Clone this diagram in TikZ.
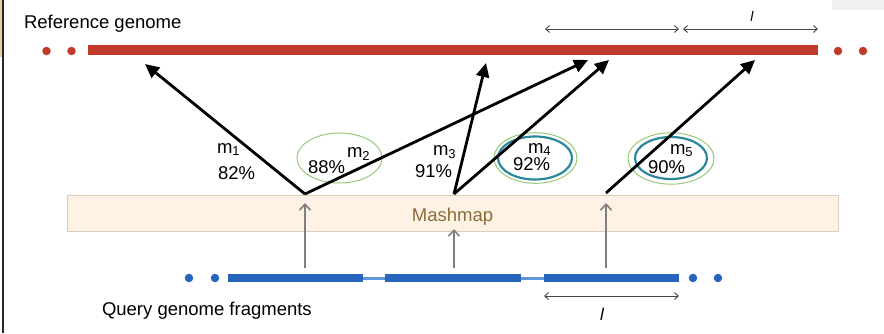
\documentclass[tikz,border=0pt]{standalone}
\usepackage{fontspec}
\setmainfont{Liberation Sans}
\usetikzlibrary{arrows.meta}
\definecolor{refred}{RGB}{192,57,43}
\definecolor{qblue}{RGB}{38,100,190}
\definecolor{qblueL}{RGB}{95,150,215}
\definecolor{boxfill}{RGB}{253,242,228}
\definecolor{boxline}{RGB}{222,205,188}
\definecolor{mashtxt}{RGB}{140,108,58}
\definecolor{ellgreen}{RGB}{150,200,120}
\definecolor{ellteal}{RGB}{45,135,155}
\definecolor{grayarr}{RGB}{128,128,128}
\definecolor{dimarr}{RGB}{70,70,70}
\definecolor{edgetan}{RGB}{235,205,170}
\tikzset{
  lbl/.style={inner sep=0pt, outer sep=0pt, font=\fontsize{18.5}{20}\selectfont},
  lensym/.style={inner sep=0pt, font=\fontsize{14}{16}\selectfont\itshape},
  maparrow/.style={line width=2.8pt, -{Triangle[length=14pt,width=13pt]}},
  uparrow/.style={line width=1.6pt, grayarr, -{Straight Barb[length=6pt,width=11pt,line width=1.6pt]}},
  dimline/.style={line width=0.9pt, dimarr, {Straight Barb[length=4pt,width=7pt]}-{Straight Barb[length=4pt,width=7pt]}},
  dotred/.style={circle, fill=refred, inner sep=0pt, minimum size=8.5pt},
  dotblue/.style={circle, fill=qblue, inner sep=0pt, minimum size=8.5pt},
  outerell/.style={draw=ellgreen, line width=1pt},
  innerell/.style={draw=ellteal, line width=2.2pt},
}
\begin{document}
\begin{tikzpicture}[x=1pt,y=-1pt]
\useasboundingbox (0,0) rectangle (884,333);
% screenshot edge artefacts
\fill[edgetan] (0,0) rectangle (2,57);
\draw[line width=2pt, black!85] (3,0) -- (3,333);
\fill[black!6] (832,0) rectangle (884,10);

% Reference genome
\node[lbl, anchor=base west] (reftitle) at (24,28) {Reference genome};
\node[dotred] (rd1) at (46.5,51) {};
\node[dotred] (rd2) at (71.5,51) {};
\node[dotred] (rd3) at (838,51) {};
\node[dotred] (rd4) at (863,51) {};
\coordinate (refL) at (88,50);
\coordinate (refR) at (818,50);
\draw[refred, line width=10pt] (refL) -- (refR);

% length markers on reference
\coordinate (dA1) at (545,29);
\coordinate (dA2) at (679,29);
\coordinate (dB1) at (683,29);
\coordinate (dB2) at (818,29);
\draw[dimline] (dA1) -- (dA2);
\draw[dimline] (dB1) -- (dB2);
\node[lensym, anchor=base] (ltop) at (752,21) {l};

% Mashmap box
\node[draw=boxline, fill=boxfill, line width=1pt, minimum width=771pt, minimum height=36pt, inner sep=0pt, anchor=north west] (mash) at (67,195) {};
\node[lbl, text=mashtxt, anchor=base] (mashtxt) at (452.5,221) {Mashmap};

% Query genome
\node[dotblue] (qd1) at (189,278) {};
\node[dotblue] (qd2) at (215,278) {};
\node[dotblue] (qd3) at (693,278) {};
\node[dotblue] (qd4) at (718,278) {};
\coordinate (s1a) at (228,278);
\coordinate (s1b) at (363,278);
\coordinate (s2a) at (385,278);
\coordinate (s2b) at (521,278);
\coordinate (s3a) at (544,278);
\coordinate (s3b) at (679,278);
\draw[qblueL, line width=3pt] (s1b) -- (s2a);
\draw[qblueL, line width=3pt] (s2b) -- (s3a);
\draw[qblue, line width=8pt] (s1a) -- (s1b);
\draw[qblue, line width=8pt] (s2a) -- (s2b);
\draw[qblue, line width=8pt] (s3a) -- (s3b);
\node[lbl, anchor=base west] (qtitle) at (102,315.5) {Query genome fragments};
\coordinate (dC1) at (544,296);
\coordinate (dC2) at (679,296);
\draw[dimline] (dC1) -- (dC2);
\node[lensym, font=\fontsize{17}{18}\selectfont\itshape, anchor=base] (lbot) at (602,320) {l};

% gray arrows from fragments into Mashmap
\coordinate (f1) at (305,268);
\coordinate (f2) at (454,268);
\coordinate (f3) at (606,268);
\coordinate (t1) at (305,203);
\coordinate (t2) at (454,229);
\coordinate (t3) at (606,203);
\draw[uparrow] (f1) -- (t1);
\draw[uparrow] (f2) -- (t2);
\draw[uparrow] (f3) -- (t3);

% ellipses
\draw[outerell] (339.5,158) ellipse [x radius=42.5pt, y radius=25pt];
\draw[outerell] (535.5,158) ellipse [x radius=41.5pt, y radius=25.3pt];
\draw[innerell] (535,158) ellipse [x radius=37pt, y radius=21.5pt];
\draw[outerell] (671,158.5) ellipse [x radius=43pt, y radius=25.7pt];
\draw[innerell] (671,158) ellipse [x radius=36pt, y radius=21pt];

% mapping arrows
\coordinate (o1) at (305,194);
\coordinate (o2) at (454,194);
\coordinate (o3) at (606,193);
\coordinate (h1) at (145,64);
\coordinate (h2) at (588,60);
\coordinate (h3) at (486,63);
\coordinate (h4) at (609,60);
\coordinate (h5) at (755,60);
\draw[maparrow] (o1) -- (h1);
\draw[maparrow] (o1) -- (h2);
\draw[maparrow] (o2) -- (h3);
\draw[maparrow] (o2) -- (h4);
\draw[maparrow] (o3) -- (h5);

% labels
\node[lbl, anchor=base west] (m1) at (217,153) {m\textsubscript{1}};
\node[lbl, anchor=base west] (p1) at (218,179) {82\%};
\node[lbl, anchor=base west] (m2) at (347,157) {m\textsubscript{2}};
\node[lbl, anchor=base west] (p2) at (308,173) {88\%};
\node[lbl, anchor=base west] (m3) at (433,155) {m\textsubscript{3}};
\node[lbl, anchor=base west] (p3) at (415,177) {91\%};
\node[lbl, anchor=base west] (m4) at (528,153) {m\textsubscript{4}};
\node[lbl, anchor=base west] (p4) at (513,170) {92\%};
\node[lbl, anchor=base west] (m5) at (670,154) {m\textsubscript{5}};
\node[lbl, anchor=base west] (p5) at (648,173) {90\%};
\end{tikzpicture}
\end{document}
